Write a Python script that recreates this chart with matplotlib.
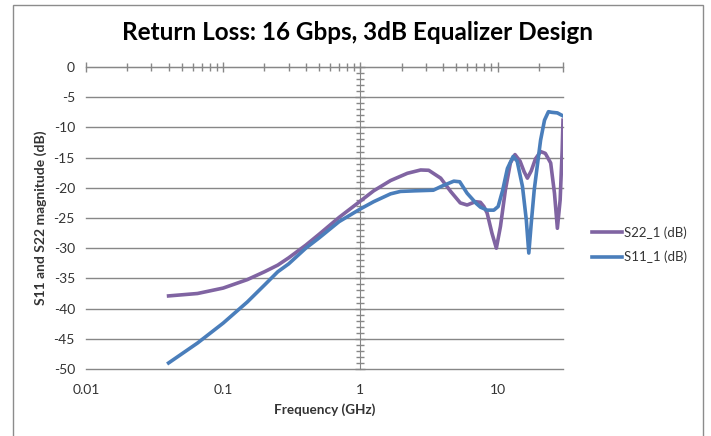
import matplotlib
matplotlib.use("Agg")
import matplotlib.pyplot as plt
from matplotlib.ticker import FixedLocator, LogLocator, NullFormatter, MultipleLocator
from matplotlib.lines import Line2D
from matplotlib.patches import Rectangle

plt.rcParams['font.family'] = ['Lato', 'DejaVu Sans']
plt.rcParams['axes.unicode_minus'] = False

title = "Return Loss: 16 Gbps, 3dB Equalizer Design"
xlabel = "Frequency (GHz)"
ylabel = "S11 and S22 magnitude (dB)"
xticks = [0.01, 0.1, 1, 10]
xticklabels = ["0.01", "0.1", "1", "10"]
yticks = [0, -5, -10, -15, -20, -25, -30, -35, -40, -45, -50]

s22_name = "S22_1 (dB)"
s22_f = [0.04, 0.065, 0.1, 0.15, 0.2, 0.25, 0.3, 0.4, 0.5, 0.7, 1.0, 1.25, 1.66,
         2.2, 2.75, 3.15, 3.85, 4.55, 5.35, 6.0, 6.9, 7.5, 7.95, 8.4, 9.1, 9.8,
         10.5, 11.4, 12.4, 13.4, 14.6, 15.6, 16.5, 17.6, 18.9, 20.6, 22.3, 24.4,
         26.0, 27.3, 28.6, 29.6, 30]
s22_db = [-37.9, -37.5, -36.6, -35.2, -33.9, -32.8, -31.6, -29.5, -27.7, -24.9, -22.2,
          -20.5, -18.8, -17.6, -17.05, -17.1, -18.4, -20.6, -22.5, -22.85, -22.3,
          -22.4, -23.1, -24.2, -27.5, -30.0, -26.4, -20.4, -15.9, -14.5, -15.6, -17.3,
          -18.4, -17.2, -15.2, -14.0, -14.3, -15.9, -20.9, -26.7, -22.0, -13.7, -8.8]

s11_name = "S11_1 (dB)"
s11_f = [0.04, 0.065, 0.1, 0.15, 0.2, 0.25, 0.3, 0.4, 0.5, 0.7, 1.0, 1.25, 1.66,
         1.96, 2.5, 3.4, 3.95, 4.8, 5.3, 6.0, 7.0, 7.5, 8.4, 9.4, 10.1, 10.9, 11.8,
         13.0, 13.9, 15.2, 16.2, 16.9, 17.6, 18.5, 19.6, 20.6, 22.0, 23.5, 24.8,
         27.3, 30]
s11_db = [-49.0, -45.7, -42.4, -38.9, -36.1, -33.9, -32.6, -30.0, -28.3, -25.6, -23.5,
          -22.3, -21.0, -20.6, -20.5, -20.4, -19.7, -18.9, -19.0, -20.9, -22.6, -23.2,
          -23.7, -23.7, -23.1, -20.4, -16.8, -14.8, -15.6, -19.8, -25.3, -30.8, -25.9,
          -20.4, -15.9, -12.1, -8.8, -7.4, -7.5, -7.6, -8.1]

c22 = "#8064A2"
c11 = "#4A7EBB"
grid_c = "#878787"
txt_c = "#333333"
lw = 2.6

W, H = 711, 436
fig = plt.figure(figsize=(W / 100, H / 100), dpi=100)
fig.patch.set_facecolor("white")

# chart border
fig.patches.append(Rectangle((12.5 / W, -0.05), (703 - 12.5) / W, 1.05 - 5 / H,
                             transform=fig.transFigure, fill=False,
                             edgecolor="#8c8c8c", lw=1.0))

pos = [86 / W, (H - 369) / H, (563 - 86) / W, (369 - 67) / H]
xlim = (0.01, 30)
ylim = (-50, 0)

# crossing axes (Excel style): horizontal axis at 0 dB, vertical axis at 1 GHz
ax2 = fig.add_axes(pos, frameon=True)
ax2.set_xscale("log")
ax2.set_xlim(*xlim)
ax2.set_ylim(*ylim)
ax2.patch.set_visible(False)
for k in ("right", "bottom"):
    ax2.spines[k].set_visible(False)
ax2.spines["left"].set_position(("data", 1))
ax2.spines["left"].set_color(grid_c)
ax2.spines["top"].set_color(grid_c)
ax2.xaxis.set_ticks_position("top")
ax2.yaxis.set_ticks_position("left")
ax2.xaxis.set_major_locator(FixedLocator(xticks + [30]))
ax2.xaxis.set_minor_locator(LogLocator(base=10, subs=range(2, 10)))
ax2.xaxis.set_major_formatter(NullFormatter())
ax2.xaxis.set_minor_formatter(NullFormatter())
ax2.yaxis.set_major_locator(MultipleLocator(5))
ax2.yaxis.set_minor_locator(MultipleLocator(1))
ax2.yaxis.set_major_formatter(NullFormatter())
ax2.yaxis.set_minor_formatter(NullFormatter())
ax2.tick_params(which="both", direction="inout", color=grid_c, width=1.0)
ax2.tick_params(which="major", length=7)
ax2.tick_params(which="minor", length=6)

ax = fig.add_axes(pos)
ax.patch.set_visible(False)
ax.set_xscale("log")
ax.set_xlim(*xlim)
ax.set_ylim(*ylim)
for s in ax.spines.values():
    s.set_visible(False)
ax.set_xticks(xticks)
ax.set_xticklabels(xticklabels)
ax.xaxis.set_minor_locator(FixedLocator([]))
ax.set_yticks(yticks)
ax.tick_params(axis="both", length=0, labelsize=10, colors=txt_c, pad=8)
ax.tick_params(axis="x", pad=11)
ax.yaxis.grid(True, color=grid_c, lw=1.0)
ax.xaxis.grid(False)
for gl in ax.yaxis.get_gridlines():
    gl.set_clip_on(False)
ax.set_axisbelow(True)

ax.plot(s22_f, s22_db, color=c22, lw=lw, solid_joinstyle="round", zorder=3)
ax.plot(s11_f, s11_db, color=c11, lw=lw, solid_joinstyle="round", zorder=3)

fig.text((12 + 703) / 2 / W, 1 - 33 / H, title, ha="center", va="center",
         fontsize=17.5, fontweight="bold", color="black")
fig.text((86 + 563) / 2 / W, 1 - 410 / H, xlabel, ha="center", va="center",
         fontsize=9.7, fontweight="bold", color=txt_c)
fig.text(41 / W, 1 - 218 / H, ylabel, ha="center", va="center", rotation=90,
         fontsize=10, fontweight="bold", color=txt_c)

handles = [Line2D([], [], color=c22, lw=lw), Line2D([], [], color=c11, lw=lw)]
fig.legend(handles, [s22_name, s11_name], loc="center left",
           bbox_to_anchor=(580 / W, 1 - 245 / H), frameon=False, fontsize=9.5,
           handlelength=2.3, handletextpad=0.1, labelspacing=0.9,
           labelcolor=txt_c)

fig.savefig("out.png", dpi=100)
